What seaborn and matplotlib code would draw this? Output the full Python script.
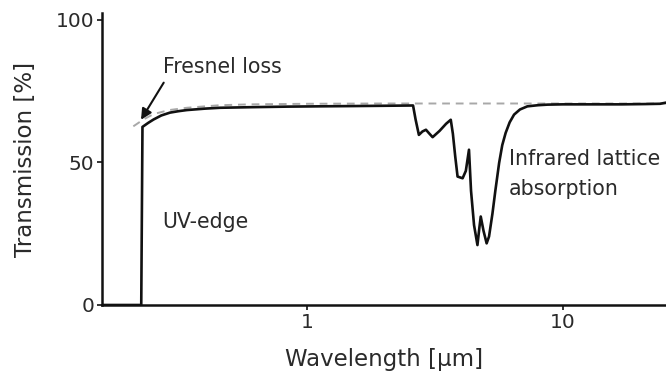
import numpy as np
import pandas as pd
import matplotlib
matplotlib.use("Agg")
import matplotlib.pyplot as plt
import seaborn as sns

# Measured transmission curve (wavelength in µm, transmission in %)
wavelength = [0.158, 0.200, 0.2255, 0.228, 0.240, 0.252, 0.270, 0.292, 0.315, 0.340,
              0.400, 0.458, 0.600, 0.835, 1.10, 1.52, 2.00, 2.60, 2.66, 2.74,
              2.83, 2.92, 3.00, 3.10, 3.30, 3.50, 3.65, 3.72, 3.80, 3.88,
              4.06, 4.18, 4.30, 4.38, 4.50, 4.64, 4.72, 4.78, 4.90, 5.04,
              5.15, 5.31, 5.45, 5.64, 5.80, 5.98, 6.20, 6.45, 6.80, 7.27,
              8.00, 8.72, 10.0, 13.0, 17.0, 21.0, 24.0, 25.3]
transmission = [0.0, 0.0, 0.0, 62.4, 63.8, 65.0, 66.4, 67.4, 67.9, 68.3,
                68.8, 69.1, 69.3, 69.5, 69.6, 69.7, 69.8, 69.9, 65.0, 59.6,
                60.8, 61.4, 60.2, 58.8, 61.0, 63.5, 64.9, 60.0, 52.0, 45.0,
                44.4, 47.0, 54.4, 40.0, 28.0, 21.0, 27.0, 31.0, 26.0, 21.6,
                24.0, 32.0, 40.0, 49.8, 56.0, 60.3, 64.0, 66.7, 68.5, 69.6,
                70.0, 70.2, 70.3, 70.3, 70.3, 70.4, 70.5, 70.9]

# Ideal curve limited only by Fresnel reflection losses
fresnel_wl = [0.210, 0.230, 0.252, 0.290, 0.340, 0.400, 0.458, 0.600, 1.0, 2.0, 5.0, 10.0, 25.3]
fresnel_t = [62.6, 65.0, 66.9, 68.3, 69.1, 69.6, 70.0, 70.3, 70.5, 70.6, 70.6, 70.6, 70.6]

y_ticks = [0, 50, 100]
x_ticks = [1, 10]
x_tick_labels = ["1", "10"]

sns.set_style("ticks")
plt.rcParams["font.family"] = ["DejaVu Sans"]
text_color = "#2a2a2a"

fig = plt.figure(figsize=(6.66, 3.74), dpi=100)
ax = fig.add_axes([0.1527, 0.1845, 0.8473, 0.7807])

measured = pd.DataFrame({"wavelength": wavelength, "transmission": transmission})
ideal = pd.DataFrame({"wavelength": fresnel_wl, "transmission": fresnel_t})

sns.lineplot(data=ideal, x="wavelength", y="transmission", ax=ax, sort=False,
             estimator=None, color="#a8a8a8", linewidth=1.4, dashes=False,
             linestyle=(0, (4, 3)))
sns.lineplot(data=measured, x="wavelength", y="transmission", ax=ax, sort=False,
             estimator=None, color="#111111", linewidth=1.9)

ax.set_xscale("log")
ax.set_xlim(0.158, 25.3)
ax.set_ylim(0, 102.3)
ax.set_xticks(x_ticks)
ax.set_xticklabels(x_tick_labels)
ax.xaxis.set_minor_locator(matplotlib.ticker.NullLocator())
ax.set_yticks(y_ticks)
ax.tick_params(axis="both", labelsize=14.5, length=3.5, width=1.2,
               colors="#111111", labelcolor=text_color, pad=2)

ax.set_xlabel("Wavelength [µm]", fontsize=16.5, color=text_color, labelpad=12)
ax.set_ylabel("Transmission [%]", fontsize=16.5, color=text_color, labelpad=13)

sns.despine(ax=ax)
for side in ("left", "bottom"):
    ax.spines[side].set_linewidth(1.8)
    ax.spines[side].set_color("#111111")

ax.annotate("", xy=(0.225, 64.9), xytext=(0.276, 77.9),
            arrowprops=dict(arrowstyle="-|>", color="#111111", lw=1.5,
                            mutation_scale=16, shrinkA=0, shrinkB=0))
label_size = 14.8
ax.text(0.274, 81.4, "Fresnel loss", fontsize=label_size, color=text_color, va="baseline")
ax.text(0.273, 27.0, "UV-edge", fontsize=label_size, color=text_color, va="baseline")
ax.text(6.15, 49.1, "Infrared lattice", fontsize=label_size, color=text_color, va="baseline")
ax.text(6.15, 38.6, "absorption", fontsize=label_size, color=text_color, va="baseline")

fig.savefig("out.png", dpi=100)
